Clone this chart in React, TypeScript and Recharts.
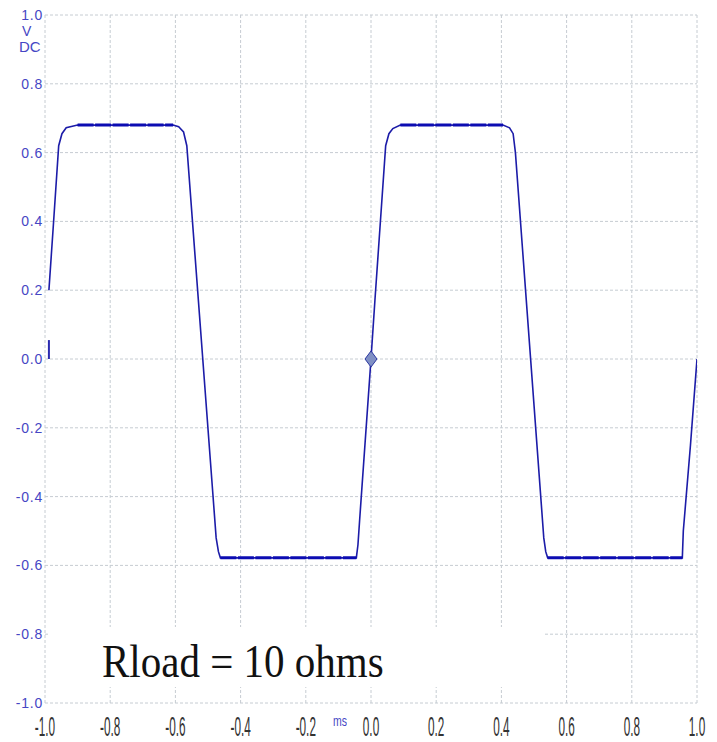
import React from 'react';
import {
  ComposedChart,
  Line,
  Scatter,
  XAxis,
  YAxis,
  CartesianGrid,
  ReferenceLine,
} from 'recharts';

// scope trace, time in ms, volts DC
const traceTime = [
  -0.988, -0.975, -0.958, -0.948, -0.935, -0.9, -0.607, -0.59, -0.575, -0.565, -0.475, -0.468,
  -0.462, -0.045, -0.04, -0.035, 0, 0.012, 0.045, 0.055, 0.067, 0.09, 0.405, 0.425, 0.436,
  0.443, 0.53, 0.536, 0.542, 0.955, 0.958, 0.98, 1.0,
];
const traceVolts = [
  0.2, 0.38, 0.62, 0.655, 0.672, 0.68, 0.68, 0.675, 0.66, 0.62, -0.52, -0.56, -0.578, -0.578,
  -0.54, -0.47, 0, 0.17, 0.62, 0.655, 0.67, 0.68, 0.68, 0.672, 0.655, 0.6, -0.52, -0.56, -0.578,
  -0.578, -0.5, -0.25, 0.0,
];

// flat parts of the trace (drawn heavier, they are noisy on the scope)
const flatStart = [-0.9, 0.09, -0.462, 0.542];
const flatEnd = [-0.607, 0.405, -0.045, 0.955];
const flatLevel = [0.68, 0.68, -0.578, -0.578];

// trigger marker
const markerTime = [0];
const markerVolts = [0];

const timeTicks = [-1, -0.8, -0.6, -0.4, -0.2, 0, 0.2, 0.4, 0.6, 0.8, 1];
const voltTicks = [-1, -0.8, -0.6, -0.4, -0.2, 0, 0.2, 0.4, 0.6, 0.8, 1];

const trace = traceTime.map((t, i) => ({ t, v: traceVolts[i] }));
const flats = flatStart.map((s, i) => [
  { t: s, v: flatLevel[i] },
  { t: flatEnd[i], v: flatLevel[i] },
]);
const markers = markerTime.map((t, i) => ({ t, v: markerVolts[i] }));

const BLUE_TEXT = '#4646c4';

const TimeTick = ({ x, y, payload }: any) => (
  <text
    transform={`translate(${x},${y}) scale(0.42,1)`}
    x={0}
    y={0}
    dy={33}
    textAnchor="middle"
    fontSize={28}
    fill="#333"
    fontFamily="'Liberation Sans', Arial, sans-serif"
  >
    {Number(payload.value).toFixed(1)}
  </text>
);

const Diamond = ({ cx, cy }: any) => (
  <polygon
    points={`${cx},${cy - 8} ${cx + 6},${cy} ${cx},${cy + 8} ${cx - 6},${cy}`}
    fill="#8090c4"
    stroke="#2a36a0"
    strokeWidth={1}
  />
);

export default function App() {
  return (
    <div style={{ position: 'absolute', left: 0, top: 0, width: 717, height: 742, background: '#fff' }}>
      <ComposedChart
        width={717}
        height={742}
        margin={{ top: 15, right: 20, bottom: 0, left: 0 }}
      >
        <CartesianGrid stroke="#c6ccd2" strokeDasharray="3 2" />
        <XAxis
          type="number"
          dataKey="t"
          domain={[-1, 1]}
          ticks={timeTicks}
          height={39}
          tickLine={false}
          tickSize={0}
          tickMargin={0}
          axisLine={false}
          tick={<TimeTick />}
          allowDataOverflow
        />
        <YAxis
          type="number"
          dataKey="v"
          domain={[-1, 1]}
          ticks={voltTicks}
          width={45}
          tickLine={false}
          tickSize={0}
          tickMargin={2}
          axisLine={false}
          tickFormatter={(v: number) => v.toFixed(1)}
          tick={{ fill: BLUE_TEXT, fontSize: 14, letterSpacing: 0.8, fontFamily: "'Liberation Sans', Arial, sans-serif" }}
          allowDataOverflow
        />
        <ReferenceLine
          segment={[{ x: -0.988, y: 0 }, { x: -0.988, y: 0.055 }]}
          stroke="#2a2ab0"
          strokeWidth={2}
          ifOverflow="visible"
        />
        <Line
          data={trace}
          dataKey="v"
          type="linear"
          stroke="#1c1ca8"
          strokeWidth={1.6}
          dot={false}
          isAnimationActive={false}
        />
        {flats.map((seg, i) => (
          <Line
            key={`flat-${i}`}
            data={seg}
            dataKey="v"
            type="linear"
            stroke="#0c0cb2"
            strokeWidth={3}
            strokeDasharray="16 1.5"
            dot={false}
            isAnimationActive={false}
          />
        ))}
        <Scatter data={markers} dataKey="v" shape={<Diamond />} isAnimationActive={false} />
      </ComposedChart>

      <div style={{ position: 'absolute', left: 22, top: 24, color: BLUE_TEXT, font: "14px 'Liberation Sans', Arial, sans-serif", lineHeight: '14px' }}>
        V
      </div>
      <div style={{ position: 'absolute', left: 19, top: 39, color: BLUE_TEXT, font: "15px 'Liberation Sans', Arial, sans-serif", lineHeight: '15px' }}>
        DC
      </div>
      <div
        style={{
          position: 'absolute',
          left: 333,
          top: 712,
          color: BLUE_TEXT,
          font: "15px 'Liberation Sans', Arial, sans-serif",
          transform: 'scaleX(0.7)',
          transformOrigin: 'left top',
        }}
      >
        ms
      </div>
      <div
        style={{
          position: 'absolute',
          left: 50,
          top: 627,
          width: 494,
          height: 60,
          background: '#fff',
        }}
      >
        <div
          style={{
            position: 'absolute',
            left: 52,
            top: 7,
            font: "41px 'Liberation Serif', 'Times New Roman', serif",
            color: '#111',
            whiteSpace: 'nowrap',
            transform: 'scaleY(1.12)',
            transformOrigin: 'left top',
          }}
        >
          Rload = 10 ohms
        </div>
      </div>
    </div>
  );
}
